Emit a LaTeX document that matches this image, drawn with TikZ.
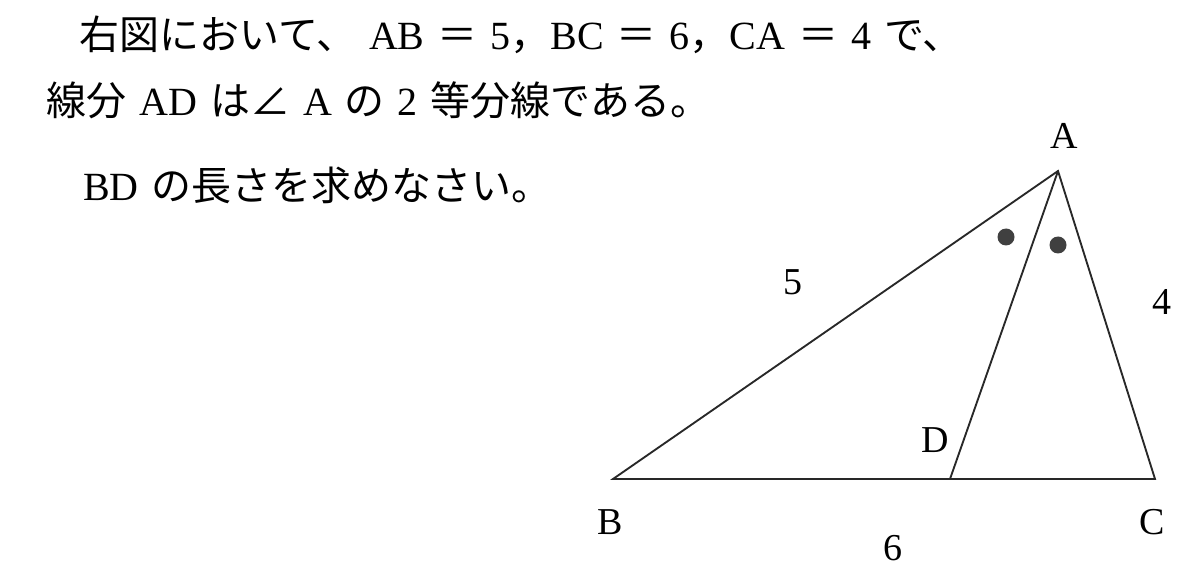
\documentclass[tikz,border=0pt]{standalone}
\usepackage{fontspec}
\setmainfont{Liberation Serif}[WordSpace=1.3]
\newfontfamily\jp{Noto Sans CJK JP}
\begin{document}
\begin{tikzpicture}[x=0.75pt,y=0.75pt,yscale=-1,xscale=1]
\tikzset{
  txt/.style={anchor=base west,inner sep=0pt,font=\fontsize{30}{36}\selectfont},
  lbl/.style={inner sep=0.75pt,font=\fontsize{28.5}{34}\selectfont},
  side/.style={line width=1.4pt,color={rgb, 255:red, 40; green, 40; blue, 40 }},
  eqdot/.style={fill={rgb, 255:red, 64; green, 64; blue, 64 }}
}
\useasboundingbox (0,0) rectangle (1198,584);

%Vertices
\coordinate (A) at (1058,171);
\coordinate (B) at (613,479);
\coordinate (C) at (1155,479);
\coordinate (D) at (950,479);

%Triangle ABC
\draw [side] (B) -- (C) -- (A) -- cycle ;
%Bisector AD
\draw [side] (A) -- (D) ;

%Equal angle marks
\fill [eqdot] (1006,237) circle (8.5) ;
\fill [eqdot] (1058,245) circle (8.5) ;

% Text Node
\node [lbl] (lblA) at (1064,136) {A};
% Text Node
\node [lbl] (lblB) at (610,522) {B};
% Text Node
\node [lbl] (lblC) at (1152,522) {C};
% Text Node
\node [lbl] (lblD) at (935,440) {D};
% Text Node
\node [lbl] (lblAB) at (793,282) {5};
% Text Node
\node [lbl] (lblCA) at (1162,302) {4};
% Text Node
\node [lbl] (lblBC) at (893,548) {6};

% Text Node
\node [txt] (line1) at (79,50) {{\jp 右図において、} AB {\jp ＝} 5{\jp ，}BC {\jp ＝} 6{\jp ，}CA {\jp ＝} 4 {\jp で、}};
% Text Node
\node [txt] (line2) at (46,116) {{\jp 線分} AD {\jp は∠} A {\jp の} 2 {\jp 等分線である。}};
% Text Node
\node [txt] (line3) at (83,201) {BD {\jp の長さを求めなさい。}};

\end{tikzpicture}
\end{document}
